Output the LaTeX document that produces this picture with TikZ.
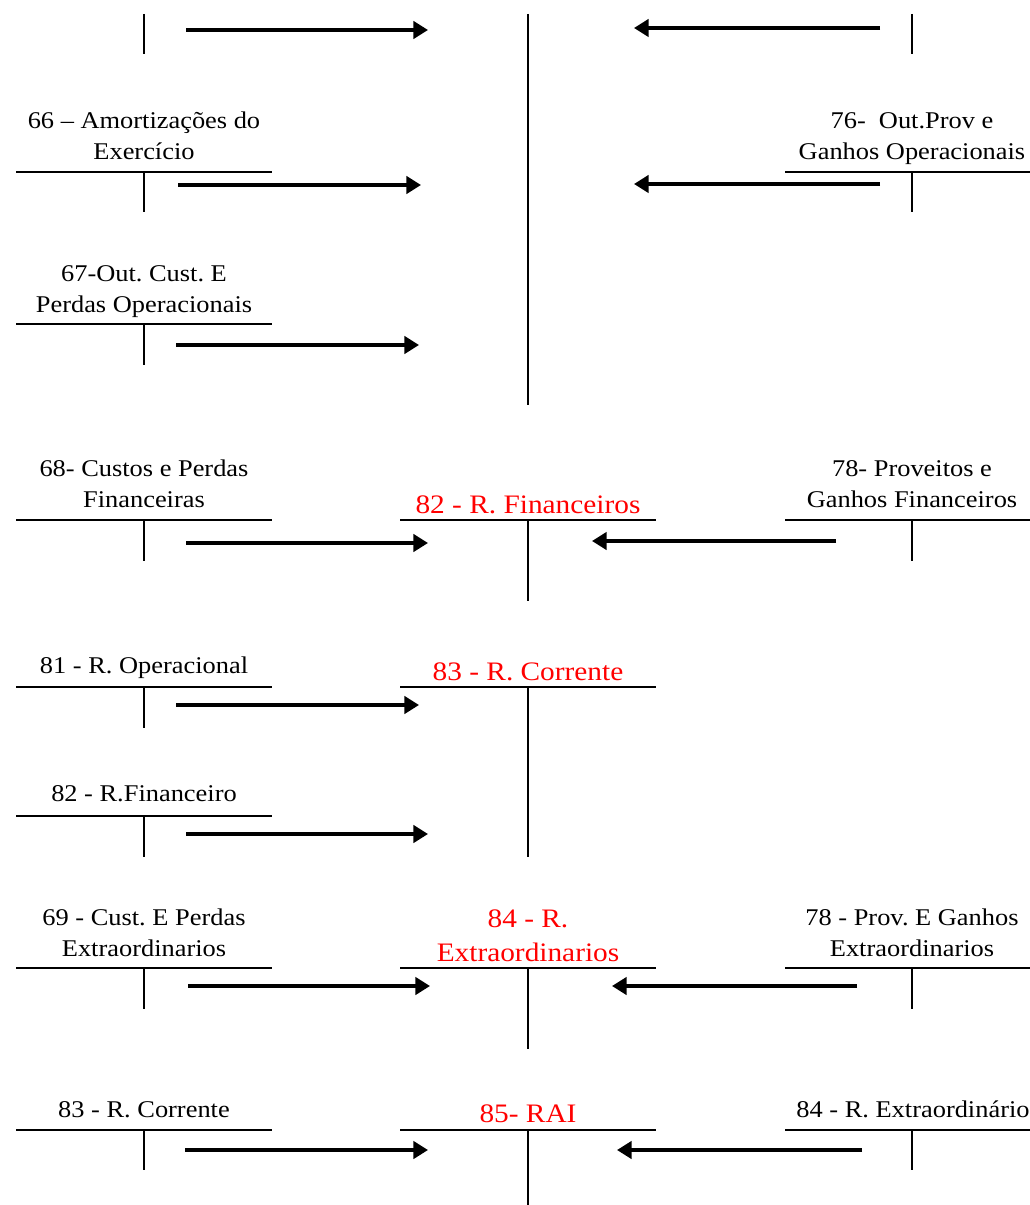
\documentclass[tikz,border=0pt]{standalone}
\usepackage{fontspec}
\setmainfont{Liberation Serif}[FakeStretch=1.1]
\usetikzlibrary{arrows.meta}
\frenchspacing

\begin{document}
\begin{tikzpicture}[
    x=0.75pt, y=-0.75pt,
    >={Triangle[length=11pt, width=13pt]},
    tline/.style={line width=1.6pt},
    stem/.style={line width=1pt},
    flow/.style={->, line width=2.6pt},
    acct/.style={anchor=south, inner sep=0pt, text depth=0pt, align=center, font=\fontsize{18}{23.25}\selectfont},
    result/.style={acct, text=red, font=\fontsize{20}{25.5}\selectfont},
]
    \useasboundingbox (0,0) rectangle (1030,1205);

    % =====================================================================
    % TOP: accounts continued from above
    % =====================================================================
    \draw[stem] (144,14) -- (144,54);
    \draw[stem] (528,14) -- (528,405);
    \draw[stem] (912,14) -- (912,54);
    \coordinate (in0s) at (186,30);  \coordinate (in0e) at (428,30);
    \coordinate (out0s) at (880,28); \coordinate (out0e) at (634,28);
    \draw[flow] (in0s) -- (in0e);
    \draw[flow] (out0s) -- (out0e);

    % 66 and 76
    \node[acct] (c66) at (144,159.5) {66 -- Amortizações do\\Exercício};
    \draw[tline] (16,172) -- (272,172);
    \draw[stem] (144,172) -- (144,212);
    \node[acct] (c76) at (912,159.5) {76-\ \ Out.Prov e\\Ganhos Operacionais};
    \draw[tline] (785,172) -- (1030,172);
    \draw[stem] (912,172) -- (912,212);
    \coordinate (in66s) at (178,185);  \coordinate (in66e) at (421,185);
    \coordinate (out76s) at (880,184); \coordinate (out76e) at (634,184);
    \draw[flow] (in66s) -- (in66e);
    \draw[flow] (out76s) -- (out76e);

    % 67
    \node[acct] (c67) at (144,312.5) {67-Out. Cust. E\\Perdas Operacionais};
    \draw[tline] (16,324) -- (272,324);
    \draw[stem] (144,324) -- (144,365);
    \coordinate (in67s) at (176,345); \coordinate (in67e) at (419,345);
    \draw[flow] (in67s) -- (in67e);

    % =====================================================================
    % 82 - RESULTADOS FINANCEIROS
    % =====================================================================
    \node[acct] (c68) at (144,507.5) {68- Custos e Perdas\\Financeiras};
    \draw[tline] (16,520) -- (272,520);
    \draw[stem] (144,520) -- (144,561);
    \node[result] (r82) at (528,513.5) {82 - R. Financeiros};
    \draw[tline] (400,520) -- (656,520);
    \draw[stem] (528,520) -- (528,601);
    \node[acct] (c78f) at (912,507.5) {78- Proveitos e\\Ganhos Financeiros};
    \draw[tline] (785,520) -- (1030,520);
    \draw[stem] (912,520) -- (912,561);
    \coordinate (in68s) at (186,543);  \coordinate (in68e) at (428,543);
    \coordinate (out78s) at (836,541); \coordinate (out78e) at (592,541);
    \draw[flow] (in68s) -- (in68e);
    \draw[flow] (out78s) -- (out78e);

    % =====================================================================
    % 83 - RESULTADO CORRENTE
    % =====================================================================
    \node[acct] (c81) at (144,673.5) {81 - R. Operacional};
    \draw[tline] (16,687) -- (272,687);
    \draw[stem] (144,687) -- (144,728);
    \node[result] (r83) at (528,681) {83 - R. Corrente};
    \draw[tline] (400,687) -- (656,687);
    \draw[stem] (528,687) -- (528,857);
    \coordinate (in81s) at (176,705); \coordinate (in81e) at (419,705);
    \draw[flow] (in81s) -- (in81e);

    \node[acct] (c82) at (144,801.5) {82 - R.Financeiro};
    \draw[tline] (16,816) -- (272,816);
    \draw[stem] (144,816) -- (144,857);
    \coordinate (in82s) at (186,834); \coordinate (in82e) at (428,834);
    \draw[flow] (in82s) -- (in82e);

    % =====================================================================
    % 84 - RESULTADOS EXTRAORDINARIOS
    % =====================================================================
    \node[acct] (c69) at (144,956.5) {69 - Cust. E Perdas\\Extraordinarios};
    \draw[tline] (16,968) -- (272,968);
    \draw[stem] (144,968) -- (144,1009);
    \node[result] (r84) at (528,961.5) {84 - R.\\Extraordinarios};
    \draw[tline] (400,968) -- (656,968);
    \draw[stem] (528,968) -- (528,1049);
    \node[acct] (c78e) at (912,956.5) {78 - Prov. E Ganhos\\Extraordinarios};
    \draw[tline] (785,968) -- (1030,968);
    \draw[stem] (912,968) -- (912,1009);
    \coordinate (in69s) at (188,986);   \coordinate (in69e) at (430,986);
    \coordinate (out78es) at (857,986); \coordinate (out78ee) at (612,986);
    \draw[flow] (in69s) -- (in69e);
    \draw[flow] (out78es) -- (out78ee);

    % =====================================================================
    % 85 - RAI
    % =====================================================================
    \node[acct] (c83) at (144,1118) {83 - R. Corrente};
    \draw[tline] (16,1130) -- (272,1130);
    \draw[stem] (144,1130) -- (144,1170);
    \node[result] (r85) at (528,1122.5) {85- RAI};
    \draw[tline] (400,1130) -- (656,1130);
    \draw[stem] (528,1130) -- (528,1205);
    \node[acct] (c84) at (913,1118) {84 - R. Extraordinário};
    \draw[tline] (785,1130) -- (1030,1130);
    \draw[stem] (912,1130) -- (912,1170);
    \coordinate (in83s) at (185,1150);  \coordinate (in83e) at (428,1150);
    \coordinate (out84s) at (862,1150); \coordinate (out84e) at (617,1150);
    \draw[flow] (in83s) -- (in83e);
    \draw[flow] (out84s) -- (out84e);

\end{tikzpicture}
\end{document}
